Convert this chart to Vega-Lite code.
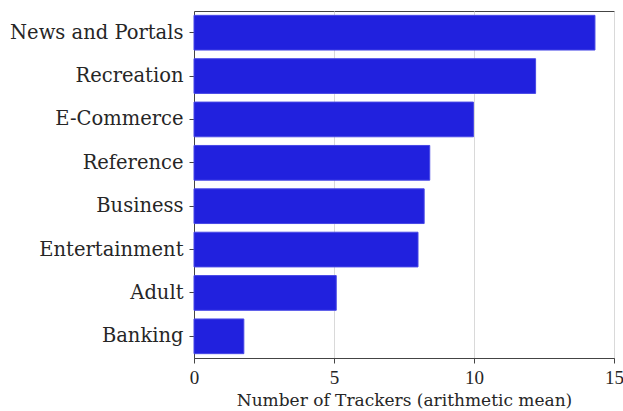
{
  "$schema": "https://vega.github.io/schema/vega-lite/v6.json",
  "autosize": "none",
  "width": 420,
  "height": 347,
  "padding": {"left": 194, "top": 11, "right": 9, "bottom": 53},
  "background": "white",
  "config": {
    "view": {"stroke": "#444444", "strokeWidth": 1},
    "font": "DejaVu Serif"
  },
  "data": {
    "values": [
      {"category": "News and Portals", "trackers": 14.32},
      {"category": "Recreation", "trackers": 12.2},
      {"category": "E-Commerce", "trackers": 9.98},
      {"category": "Reference", "trackers": 8.42},
      {"category": "Business", "trackers": 8.22},
      {"category": "Entertainment", "trackers": 8.0},
      {"category": "Adult", "trackers": 5.08},
      {"category": "Banking", "trackers": 1.78}
    ]
  },
  "mark": {"type": "bar", "color": "#2121DE", "stroke": "#4747E6", "strokeWidth": 1},
  "encoding": {
    "y": {
      "field": "category",
      "type": "nominal",
      "sort": null,
      "scale": {"paddingInner": 0.2, "paddingOuter": 0.1},
      "axis": {
        "title": null,
        "labelFont": "DejaVu Serif",
        "labelFontSize": 19.5,
        "labelColor": "#262626",
        "labelPadding": 6,
        "tickColor": "#444444",
        "tickSize": 5,
        "domainColor": "#444444",
        "grid": false
      }
    },
    "x": {
      "field": "trackers",
      "type": "quantitative",
      "scale": {"domain": [0, 15], "nice": false},
      "axis": {
        "title": "Number of Trackers (arithmetic mean)",
        "titleFont": "DejaVu Serif",
        "titleFontSize": 17,
        "titleFontWeight": "normal",
        "titleColor": "#262626",
        "titlePadding": 5,
        "values": [0, 5, 10, 15],
        "labelFont": "Liberation Serif",
        "labelFontSize": 19,
        "labelColor": "#262626",
        "labelPadding": 5,
        "labelFlush": false,
        "tickColor": "#444444",
        "tickSize": 5,
        "domainColor": "#444444",
        "grid": true,
        "gridColor": "#d9d9d9"
      }
    }
  }
}
